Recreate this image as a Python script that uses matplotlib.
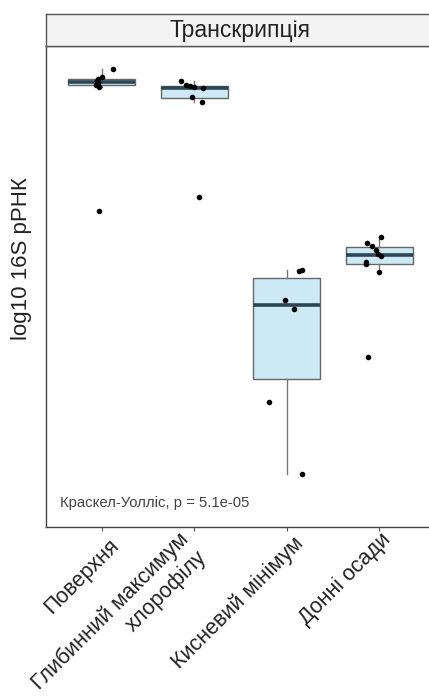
import matplotlib
matplotlib.use("Agg")
import matplotlib.pyplot as plt
from matplotlib.transforms import ScaledTranslation

plt.rcParams['font.family'] = ['Liberation Sans', 'DejaVu Sans']

# data (log10 16S rRNA, arbitrary scale)
groups = ["Поверхня", "Глибинний максимум\nхлорофілу", "Кисневий мінімум", "Донні осади"]
surface = [9.62, 9.46, 9.42, 9.38, 9.34, 9.30, 9.26, 6.78]
dcm = [9.38, 9.30, 9.28, 9.26, 9.24, 9.06, 8.96, 7.06]
omz = [5.60, 5.58, 5.00, 4.82, 2.96, 1.52]
sediment = [6.26, 6.14, 6.08, 6.00, 5.92, 5.88, 5.76, 5.72, 5.56, 3.86]
# horizontal jitter of each point, in category units
jit_surface = [0.12, 0.0, -0.04, -0.05, -0.04, -0.06, -0.03, -0.03]
jit_dcm = [-0.14, -0.09, -0.05, 0.0, 0.10, -0.02, 0.08, 0.05]
jit_omz = [0.16, 0.13, -0.02, 0.08, -0.19, 0.16]
jit_sediment = [0.02, -0.13, -0.08, -0.04, -0.02, 0.02, -0.15, -0.15, -0.01, -0.12]

data = [surface, dcm, omz, sediment]
jitters = [jit_surface, jit_dcm, jit_omz, jit_sediment]

W, H = 429, 697
fig = plt.figure(figsize=(W / 100, H / 100), dpi=100)
ax = fig.add_axes([46 / W, (H - 527) / H, (435 - 46) / W, (527 - 46) / H])

pos = [1, 2, 3, 4]
ax.boxplot(data, positions=pos, widths=0.72, patch_artist=True, showfliers=False,
           boxprops=dict(facecolor="#cde9f5", edgecolor="#666666", linewidth=1.0),
           medianprops=dict(color="#2c4654", linewidth=2.6),
           whiskerprops=dict(color="#777777", linewidth=1.0),
           capprops=dict(linewidth=0))

for p, vals, jit in zip(pos, data, jitters):
    ax.scatter([p + j for j in jit], vals, s=16, color="black", zorder=5, linewidths=0)

ax.set_xlim(0.4, 4.6)
ax.set_ylim(0.46, 10.08)
ax.set_xticks(pos)
ax.set_xticklabels([])
ax.tick_params(axis="x", length=3, color="#555555")
ax.set_yticks([])
for s in ax.spines.values():
    s.set_color("#444444")
    s.set_linewidth(1.0)

# rotated category labels, nudged a little each (pixels)
nudges = [(7, -8), (-16, -2), (6, -6), (1, -2)]
for p, g, (dx, dy) in zip(pos, groups, nudges):
    tr = ax.get_xaxis_transform() + ScaledTranslation(dx / 100, dy / 100, fig.dpi_scale_trans)
    ax.text(p, 0, g, transform=tr, rotation=45, ha="right", va="top", rotation_mode="anchor",
            fontsize=15.5, color="#222222")

ax.text(0.035, 0.05, "Краскел-Уолліс, р = 5.1e-05", transform=ax.transAxes,
        fontsize=10.7, color="#444444", ha="left", va="center")

# strip on top
sax = fig.add_axes([46 / W, (H - 46) / H, (435 - 46) / W, (46 - 14) / H])
sax.set_xticks([])
sax.set_yticks([])
sax.set_facecolor("#f3f3f3")
for s in sax.spines.values():
    s.set_color("#555555")
    s.set_linewidth(1.0)
sax.text(0.5, 0.5, "Транскрипція", transform=sax.transAxes, ha="center", va="center",
         fontsize=16.5, color="#222222")

fig.text(22 / W, 0.5 + (H / 2 - 259) / H, "log10 16S рРНК", rotation=90, ha="center", va="center",
         fontsize=16, color="#222222")

fig.savefig("out.png", dpi=100)
